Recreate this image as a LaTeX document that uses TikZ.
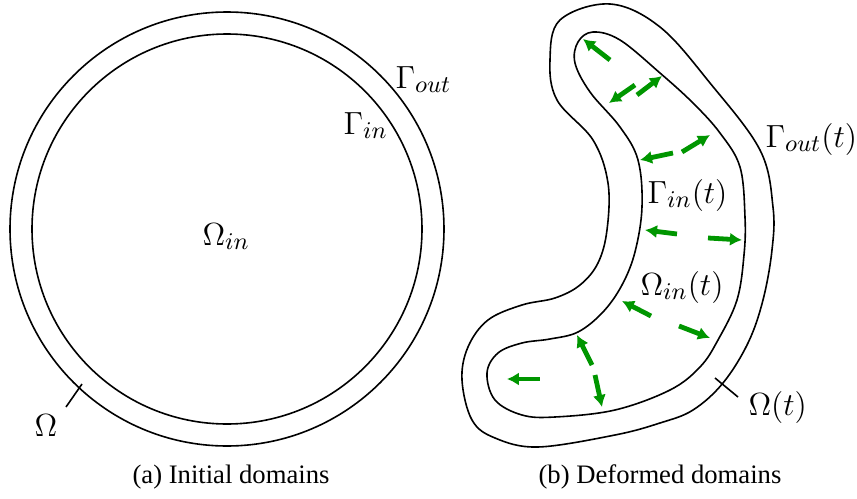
\documentclass[tikz,border=0pt]{standalone}
\usepackage{fontspec}
\usepackage{tikz}
\usetikzlibrary{positioning, arrows.meta}
\newfontfamily\capfont{Liberation Serif}
\definecolor{velgreen}{RGB}{0,150,0}
\newcommand{\lbl}{\fontsize{12.7}{15}\selectfont}

\begin{document}
\begin{tikzpicture}[x=0.01319cm, y=-0.01319cm,
    wall/.style={line width=0.6pt, black},
    vel/.style={-{Latex[length=4.5pt,width=5pt]}, line width=1.8pt, velgreen},
    mlabel/.style={font=\lbl, inner sep=0pt, anchor=base west},
    caption/.style={font=\capfont\fontsize{10}{12}\selectfont, inner sep=0pt}]
  \useasboundingbox (0,0) rectangle (857,499);

  % (a) initial domains
  \coordinate (c0) at (227,229);
  \draw[wall] (c0) circle [radius=217];
  \draw[wall] (c0) circle [radius=195];
  \node[mlabel] (gout) at (395,88) {$\Gamma_{out}$};
  \node[mlabel] (gin) at (343,134) {$\Gamma_{in}$};
  \node[mlabel] (omin) at (202,245) {$\Omega_{in}$};
  \node[mlabel] (om) at (34,436) {$\Omega$};
  \coordinate (omtick) at (82,384);
  \draw[wall] (66,407) -- (omtick);

  % (b) deformed domains
  \draw[wall] plot[smooth cycle, tension=0.6] coordinates {
    (610,4) (660,27) (710,83) (760,150) (773,207) (772,250) (763,300)
    (748,343) (723,383) (693,410) (660,423) (615,435) (538,447) (495,438)
    (472,420) (462,380) (468,347) (488,320) (522,305) (555,298) (580,285)
    (598,263) (607,230) (608,183) (593,140) (557,100) (550,60) (560,20)};
  \draw[wall] plot[smooth cycle, tension=0.6] coordinates {
    (593,32) (620,40) (660,73) (693,103) (720,133) (740,167) (745,217)
    (744,255) (737,300) (718,340) (700,367) (670,390) (615,410) (555,417)
    (522,415) (495,400) (487,373) (498,353) (522,343) (550,339) (578,332)
    (603,312) (622,285) (635,252) (642,207) (638,160) (620,127) (590,92)
    (575,63) (578,42)};
  \node[mlabel] (goutt) at (765,147) {$\Gamma_{out}(t)$};
  \node[mlabel] (gint) at (647,203) {$\Gamma_{in}(t)$};
  \node[mlabel] (omint) at (640,295) {$\Omega_{in}(t)$};
  \node[mlabel] (omt) at (748,415) {$\Omega(t)$};
  \coordinate (omttick) at (715,378);
  \draw[wall] (738,397) -- (omttick);

  % velocity field
  \draw[vel] (610,60) -- (583,39);
  \draw[vel] (635,85) -- (609,103);
  \draw[vel] (637,95) -- (662,76);
  \draw[vel] (673,153) -- (640,160);
  \draw[vel] (682,152) -- (710,135);
  \draw[vel] (677,234) -- (645,230);
  \draw[vel] (708,238) -- (742,240);
  \draw[vel] (651,316) -- (622,301);
  \draw[vel] (679,326) -- (710,338);
  \draw[vel] (540,379) -- (507,379);
  \draw[vel] (592,365) -- (577,335);
  \draw[vel] (595,375) -- (602,407);

  \node[caption] (capa) at (231,477) {(a) Initial domains};
  \node[caption] (capb) at (660,477) {(b) Deformed domains};
\end{tikzpicture}
\end{document}
